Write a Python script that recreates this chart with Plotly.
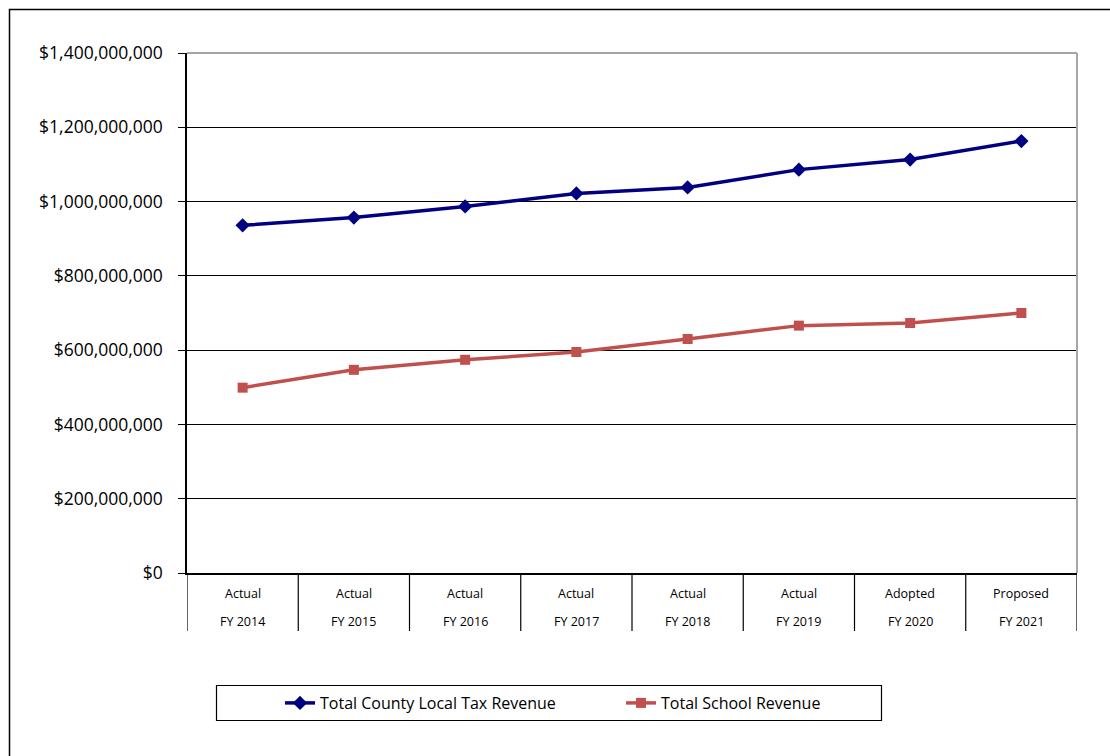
import plotly.graph_objects as go

# Fiscal year categories (two-line labels: status / year)
status = ["Actual", "Actual", "Actual", "Actual", "Actual", "Actual", "Adopted", "Proposed"]
years = ["FY 2014", "FY 2015", "FY 2016", "FY 2017", "FY 2018", "FY 2019", "FY 2020", "FY 2021"]

county_tax = [936e6, 957e6, 987e6, 1022e6, 1038e6, 1086e6, 1113e6, 1163e6]
school_rev = [499e6, 547e6, 574e6, 595e6, 630e6, 666e6, 673e6, 700e6]

y_ticks = [0, 200e6, 400e6, 600e6, 800e6, 1000e6, 1200e6, 1400e6]

FONT = "Open Sans"
W, H = 1110, 756
L, R, T, B = 187, 33, 53, 183
pw, ph = W - L - R, H - T - B

def px_x(p):
    return (p - L) / pw

def px_y(p):
    return (H - B - p) / ph

xs = list(range(len(years)))

fig = go.Figure()
fig.add_trace(go.Scatter(
    x=xs, y=county_tax, mode="lines+markers", name="Total County Local Tax Revenue",
    line=dict(color="#000080", width=3.5),
    marker=dict(symbol="diamond", size=11, color="#000080"),
))
fig.add_trace(go.Scatter(
    x=xs, y=school_rev, mode="lines+markers", name="Total School Revenue",
    line=dict(color="#C0504D", width=3.5),
    marker=dict(symbol="square", size=10, color="#C0504D"),
))

shapes = []
# outer chart border
shapes.append(dict(type="rect", xref="paper", yref="paper",
                   x0=px_x(9.5), x1=px_x(1130), y0=px_y(780), y1=px_y(9.5),
                   line=dict(color="#000000", width=1.5), fillcolor="rgba(0,0,0,0)", layer="below"))
# plot area border (top and right)
shapes.append(dict(type="line", xref="paper", yref="paper", x0=0, x1=1, y0=1, y1=1,
                   line=dict(color="#a6a6a6", width=2)))
shapes.append(dict(type="line", xref="paper", yref="paper", x0=1, x1=1, y0=0, y1=1,
                   line=dict(color="#a6a6a6", width=2)))
# category dividers below the axis
for i in range(len(years) + 1):
    shapes.append(dict(type="line", xref="x", yref="paper", x0=i - 0.5, x1=i - 0.5,
                       y0=px_y(631), y1=0, line=dict(color="#000000", width=1.2)))
# legend box
shapes.append(dict(type="rect", xref="paper", yref="paper",
                   x0=px_x(216.5), x1=px_x(881.5), y0=px_y(720.5), y1=px_y(685.5),
                   line=dict(color="#000000", width=1.2), fillcolor="rgba(0,0,0,0)"))

annotations = []
for i, (s, yv) in enumerate(zip(status, years)):
    annotations.append(dict(x=i, y=px_y(593), xref="x", yref="paper", text=s, showarrow=False,
                            font=dict(family=FONT, size=12.5, color="#000000"),
                            xanchor="center", yanchor="middle"))
    annotations.append(dict(x=i, y=px_y(621), xref="x", yref="paper", text=yv, showarrow=False,
                            font=dict(family=FONT, size=12.5, color="#000000"),
                            xanchor="center", yanchor="middle"))

fig.update_layout(
    width=W, height=H,
    margin=dict(l=L, r=R, t=T, b=B, pad=0),
    paper_bgcolor="white", plot_bgcolor="white",
    font=dict(family=FONT, color="#000000"),
    showlegend=True,
    legend=dict(orientation="h", x=px_x(280), y=px_y(703), xanchor="left", yanchor="middle",
                font=dict(family=FONT, size=16, color="#000000"),
                entrywidth=296, entrywidthmode="pixels",
                bgcolor="rgba(0,0,0,0)", borderwidth=0, itemwidth=30),
    xaxis=dict(range=[-0.5, len(years) - 0.5], showticklabels=False, showgrid=False,
               zeroline=False, showline=True, linecolor="#000000", linewidth=1.5,
               ticks="", fixedrange=True),
    yaxis=dict(range=[0, 1.4e9], tickvals=y_ticks, tickformat="$,.0f",
               showgrid=True, gridcolor="#000000", gridwidth=1.2, zeroline=False,
               showline=True, linecolor="#000000", linewidth=1.5,
               ticks="outside", ticklen=7, tickcolor="#000000", tickwidth=1.2,
               ticklabelstandoff=12,
               tickfont=dict(family=FONT, size=17.5, color="#000000"), fixedrange=True),
    shapes=shapes,
    annotations=annotations,
)

fig.write_html("out.html")
